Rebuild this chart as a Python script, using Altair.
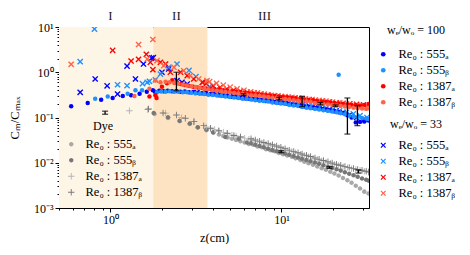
import altair as alt
import pandas as pd

# ---------------- data ----------------
SERIES = ["Re₀ : 555ₐ", "Re₀ : 555ᵦ", "Re₀ : 1387ₐ", "Re₀ : 1387ᵦ"]

# shared measurement positions of the dense camera series (cm)
ZA = [1.82, 1.93, 2.04, 2.16, 2.29, 2.43, 2.57, 2.72, 2.88, 3.05, 3.24, 3.43, 3.63, 3.85, 4.07, 4.31,
      4.57, 4.84, 5.13, 5.43, 5.75, 6.09, 6.45, 6.83, 7.24, 7.67, 8.12, 8.60, 9.11, 9.65, 10.2, 10.8,
      11.5, 12.1, 12.9, 13.6, 14.4, 15.3, 16.2, 17.2, 18.2, 19.3, 20.4, 21.6, 22.9, 24.3, 25.7, 27.2,
      28.8, 30.5, 32.3]
ZB = [1.87, 1.98, 2.10, 2.22, 2.36, 2.50, 2.65, 2.80, 2.97, 3.15, 3.33, 3.53, 3.74, 3.96, 4.19, 4.44,
      4.70, 4.98, 5.28, 5.59, 5.92, 6.27, 6.64, 7.03, 7.45, 7.89, 8.36, 8.85, 9.37, 9.92, 10.5, 11.1,
      11.8, 12.5, 13.2, 14.0, 14.8, 15.7, 16.6, 17.6, 18.7, 19.8, 21.0, 22.2, 23.5, 24.9, 26.4, 27.9,
      29.6, 31.3, 32.4]
ZC = [2.51, 2.75, 3.02, 3.31, 3.63, 3.98, 4.37, 4.79, 5.25, 5.75, 6.31, 6.92, 7.59, 8.32, 9.12, 10.0,
      11.0, 12.0, 13.2, 14.5, 15.8, 17.4, 19.1, 20.9, 22.9, 25.1, 27.5, 30.2]
ZC2 = [2.63, 2.88, 3.16, 3.47, 3.80, 4.17, 4.57, 5.01, 5.50, 6.03, 6.61, 7.24, 7.94, 8.71, 9.55, 10.5,
       11.5, 12.6, 13.8, 15.1, 16.6, 18.2, 19.9, 21.9, 24.0, 26.3, 28.8, 31.6]

# w_e/w_o = 100 (dots)
d555a_z = [0.589, 0.736, 0.882, 1.03, 1.18, 1.32, 1.48, 1.63, 1.77] + ZA
d555a_c = [0.177, 0.21, 0.247, 0.27, 0.30, 0.31, 0.336, 0.37, 0.40,
           0.37, 0.39, 0.38, 0.39, 0.38, 0.385, 0.37, 0.375, 0.36, 0.365, 0.35, 0.345, 0.34, 0.33,
           0.325, 0.31, 0.305, 0.30, 0.29, 0.285, 0.275, 0.27, 0.26, 0.255, 0.25, 0.245, 0.235, 0.23,
           0.22, 0.215, 0.21, 0.205, 0.195, 0.19, 0.18, 0.175, 0.17, 0.165, 0.16, 0.155, 0.15, 0.145,
           0.14, 0.13, 0.125, 0.112, 0.10, 0.078, 0.08, 0.082, 0.086]
d555b_z = [0.814, 0.964, 1.26, 1.40, 1.53, 21.6] + ZB
d555b_c = [0.26, 0.29, 0.336, 0.40, 0.40, 0.88,
           0.36, 0.375, 0.37, 0.38, 0.37, 0.37, 0.36, 0.36, 0.35, 0.345, 0.335, 0.33, 0.32, 0.315,
           0.305, 0.30, 0.29, 0.285, 0.275, 0.27, 0.26, 0.255, 0.25, 0.24, 0.235, 0.23, 0.225, 0.215,
           0.21, 0.205, 0.20, 0.19, 0.185, 0.18, 0.17, 0.165, 0.16, 0.155, 0.15, 0.145, 0.14, 0.135,
           0.13, 0.125, 0.118, 0.11, 0.105, 0.10, 0.097, 0.095, 0.092]
d1387a_z = [1.69, 1.83, 1.86, 2.0, 2.14, 2.30] + ZA[5:]
d1387a_c = [0.29, 0.31, 0.27, 0.48, 0.57, 0.67,
            0.60, 0.55, 0.52, 0.50, 0.48, 0.46, 0.45, 0.44, 0.43, 0.42, 0.41, 0.40, 0.39, 0.38, 0.37,
            0.36, 0.35, 0.34, 0.335, 0.325, 0.32, 0.31, 0.305, 0.30, 0.29, 0.285, 0.28, 0.27, 0.265,
            0.255, 0.25, 0.245, 0.24, 0.23, 0.225, 0.22, 0.215, 0.21, 0.205, 0.20, 0.195, 0.19, 0.19,
            0.185, 0.19, 0.20]
d1387b_z = [1.38, 1.69, 1.83, 1.96] + ZB[2:]
d1387b_c = [0.30, 0.43, 0.66, 0.60,
            0.62, 0.60, 0.58, 0.56, 0.53, 0.51, 0.49, 0.47, 0.45, 0.43, 0.42, 0.40, 0.39, 0.38, 0.37,
            0.36, 0.35, 0.34, 0.33, 0.32, 0.31, 0.305, 0.30, 0.29, 0.285, 0.275, 0.27, 0.26, 0.255,
            0.25, 0.24, 0.235, 0.23, 0.225, 0.22, 0.21, 0.205, 0.20, 0.195, 0.19, 0.185, 0.18, 0.175,
            0.17, 0.165, 0.16, 0.158, 0.155, 0.16]

# w_e/w_o = 33 (crosses)
x555a_z = [0.665, 0.814, 0.956, 1.10, 1.25, 1.40, 1.56, 1.74, 1.78, 2.0, 2.19, 2.45, 2.62, 2.81, 3.21] + ZC[4:]
x555a_c = [0.36, 0.71, 0.50, 0.33, 1.37, 0.71, 1.52, 2.06, 2.1, 1.0, 1.18, 0.65, 0.60, 0.55, 0.36,
           0.36, 0.35, 0.33, 0.315, 0.30, 0.285, 0.27, 0.26, 0.25, 0.24, 0.23, 0.22, 0.21, 0.20,
           0.19, 0.18, 0.17, 0.16, 0.15, 0.14, 0.13, 0.115, 0.10, 0.09]
x555b_z = [0.665, 0.806, 1.10, 1.25, 1.54, 1.64, 1.69, 1.83, 1.96, 2.19, 2.45] + ZC2[1:]
x555b_c = [1.71, 9.0, 0.53, 0.505, 0.56, 0.60, 0.63, 0.68, 0.91, 1.29, 1.52,
           1.1, 0.8, 0.6, 0.48, 0.42, 0.38, 0.35, 0.325, 0.30, 0.285, 0.27, 0.255, 0.245, 0.235,
           0.22, 0.21, 0.20, 0.19, 0.18, 0.17, 0.16, 0.15, 0.14, 0.13, 0.12, 0.11, 0.10]
x1387a_z = [1.03, 1.32, 1.46, 1.62, 1.71, 1.77, 1.96, 2.10, 2.24, 2.57, 2.81, 3.07, 3.44] + ZC[4:]
x1387a_c = [3.05, 1.77, 1.93, 2.49, 1.66, 1.14, 1.66, 1.52, 1.0, 1.0, 0.84, 0.71, 0.60,
            0.56, 0.50, 0.46, 0.43, 0.40, 0.38, 0.36, 0.345, 0.33, 0.315, 0.30, 0.29, 0.28, 0.27,
            0.26, 0.25, 0.24, 0.23, 0.22, 0.21, 0.205, 0.20, 0.195, 0.19]
x1387b_z = [0.589, 1.46, 1.77, 1.64, 1.87, 2.05, 2.35, 2.68, 2.93, 3.28, 3.67] + ZC2[4:]
x1387b_c = [1.5, 4.1, 5.3, 1.96, 1.80, 1.40, 1.29, 1.08, 0.84, 0.71, 0.65,
            0.62, 0.57, 0.52, 0.47, 0.43, 0.40, 0.37, 0.35, 0.33, 0.31, 0.30, 0.29, 0.28, 0.27,
            0.26, 0.25, 0.24, 0.23, 0.22, 0.21, 0.20, 0.19, 0.18, 0.175]

# Dye
y555a_z = [1.81, 2.17, 2.54, 2.91, 3.24, 3.64, 3.99] + ZA[15:]
y555a_c = [0.12, 0.098, 0.083, 0.072, 0.060, 0.052, 0.046,
           0.042, 0.039, 0.036, 0.034, 0.032, 0.030, 0.028, 0.026, 0.025, 0.023, 0.022, 0.020,
           0.019, 0.018, 0.0165, 0.0155, 0.0145, 0.0135, 0.0125, 0.0115, 0.0105, 0.0098, 0.009,
           0.0083, 0.0076, 0.007, 0.0063, 0.0058, 0.0052, 0.0046, 0.0041, 0.0036, 0.0031, 0.0027,
           0.0023, 0.0021]
y555b_z = [1.79, 2.17, 2.54, 2.91, 3.24, 3.64, 3.99, 4.70, 5.63, 6.30] + ZB[22:]
y555b_c = [0.126, 0.101, 0.085, 0.074, 0.061, 0.054, 0.047, 0.037, 0.034, 0.028,
           0.027, 0.025, 0.0235, 0.022, 0.0205, 0.019, 0.018, 0.017, 0.016, 0.015, 0.014, 0.013,
           0.0122, 0.0115, 0.0108, 0.0101, 0.0095, 0.0088, 0.0082, 0.0077, 0.0072, 0.0067, 0.0062,
           0.0057, 0.0053, 0.0049, 0.0045, 0.0042, 0.004]
y1387a_z = [1.29, 1.65, 2.1, 2.6, 3.1] + ZA[12:]
y1387a_c = [0.141, 0.15, 0.125, 0.10, 0.082,
            0.062, 0.058, 0.054, 0.050, 0.047, 0.044, 0.041, 0.039, 0.037, 0.035, 0.033, 0.031,
            0.029, 0.0275, 0.026, 0.0245, 0.023, 0.0215, 0.020, 0.019, 0.0178, 0.0166, 0.0155,
            0.0145, 0.0135, 0.0126, 0.0118, 0.011, 0.0103, 0.0097, 0.0092, 0.0087, 0.0082, 0.0078,
            0.0074, 0.0071, 0.0068, 0.0065, 0.0063]
y1387b_z = [1.67, 2.03, 2.43, 2.74, 3.07, 3.51, 3.84, 4.30, 4.81, 5.27, 5.76] + ZB[22:]
y1387b_c = [0.154, 0.126, 0.114, 0.096, 0.081, 0.066, 0.058, 0.051, 0.045, 0.040, 0.037,
            0.034, 0.032, 0.030, 0.028, 0.0265, 0.025, 0.0235, 0.022, 0.0205, 0.019, 0.0178,
            0.0167, 0.0156, 0.0146, 0.0137, 0.0128, 0.012, 0.0112, 0.0105, 0.0099, 0.0093, 0.0088,
            0.0083, 0.0079, 0.0075, 0.0071, 0.0068, 0.0065, 0.0062]

# error bars
eb_z = [0.93, 2.43, 6.0, 9.7, 13.2, 16.9, 20.7, 24.3, 27.8, 9.97, 19.1, 28.2]
eb_lo = [0.118, 0.39, 0.305, 0.245, 0.174, 0.19, 0.175, 0.043, 0.066, 0.0168, 0.0075, 0.0059]
eb_hi = [0.138, 1.0, 0.335, 0.28, 0.294, 0.215, 0.19, 0.27, 0.183, 0.0185, 0.0082, 0.0069]

# regions
REGIONS = ["I", "II"]
region_lo = [0.5, 1.78]
region_hi = [1.78, 3.69]
ROMAN = ["I", "II", "III"]
roman_z = [1.0, 2.43, 7.96]

DYE = ["Re₀ : 555ₐ ", "Re₀ : 555ᵦ ", "Re₀ : 1387ₐ ", "Re₀ : 1387ᵦ "]

# ---------------- styling ----------------
W, H = 310, 181
FONT = "Liberation Serif"
COLORS = ["#0000ff", "#1e90ff", "#ff0000", "#ff6347"]
DYE_COLORS = ["#a8a8a8", "#777777", "#b4b4b4", "#777777"]
XPATH = ("M0.693,-1.004L1.004,-0.693L0.311,0L1.004,0.693L0.693,1.004L0,0.311L-0.693,1.004"
         "L-1.004,0.693L-0.311,0L-1.004,-0.693L-0.693,-1.004L0,-0.311Z")
PLUS = ("M-0.14,-1L0.14,-1L0.14,-0.14L1,-0.14L1,0.14L0.14,0.14L0.14,1L-0.14,1L-0.14,0.14"
        "L-1,0.14L-1,-0.14L-0.14,-0.14Z")
CIRC = "M0.7,0A0.7,0.7,0,1,1,-0.7,0A0.7,0.7,0,1,1,0.7,0Z"


def frame(groups):
    out = []
    for zs, cs, name in groups:
        assert len(zs) == len(cs), name
        out += [{"z": a, "c": b, "series": name} for a, b in zip(zs, cs)]
    return pd.DataFrame(out)


dots_df = frame([(d555a_z, d555a_c, SERIES[0]), (d555b_z, d555b_c, SERIES[1]),
                 (d1387a_z, d1387a_c, SERIES[2]), (d1387b_z, d1387b_c, SERIES[3])])
cross_df = frame([(x555a_z, x555a_c, SERIES[0]), (x555b_z, x555b_c, SERIES[1]),
                  (x1387a_z, x1387a_c, SERIES[2]), (x1387b_z, x1387b_c, SERIES[3])])
dye_df = frame([(y555a_z, y555a_c, DYE[0]), (y555b_z, y555b_c, DYE[1]),
                (y1387a_z, y1387a_c, DYE[2]), (y1387b_z, y1387b_c, DYE[3])])
eb_df = pd.DataFrame({"z": eb_z, "lo": eb_lo, "hi": eb_hi})
reg_df = pd.DataFrame({"region": REGIONS, "lo": region_lo, "hi": region_hi})
rom_df = pd.DataFrame({"label": ROMAN, "z": roman_z})

X_TICKS = [0.5, 0.6, 0.7, 0.8, 0.9, 1, 2, 3, 4, 5, 6, 7, 8, 9, 10, 20, 30]
Y_TICKS = [0.001, 0.002, 0.003, 0.004, 0.005, 0.006, 0.007, 0.008, 0.009,
           0.01, 0.02, 0.03, 0.04, 0.05, 0.06, 0.07, 0.08, 0.09,
           0.1, 0.2, 0.3, 0.4, 0.5, 0.6, 0.7, 0.8, 0.9,
           1, 2, 3, 4, 5, 6, 7, 8, 9, 10]
MAJOR = "indexof([0.001, 0.01, 0.1, 1, 10], datum.value) >= 0"
TICK = {"condition": {"test": MAJOR, "value": 4}, "value": 2}

xs = alt.Scale(type="log", domain=[0.5, 32.5], nice=False)
ys = alt.Scale(type="log", domain=[0.001, 10], nice=False)
x_axis = alt.Axis(title="z(cm)", values=X_TICKS,
                  labelExpr="datum.value == 1 ? '10⁰' : datum.value == 10 ? '10¹' : ''",
                  tickSize=TICK, labelOverlap=False, labelFlush=False, grid=False,
                  labelPadding=2, titlePadding=6)
y_axis = alt.Axis(title="Cₘ/Cₘₐₓ", values=Y_TICKS,
                  labelExpr=("datum.value == 0.001 ? '10⁻³' : datum.value == 0.01 ? '10⁻²' : "
                             "datum.value == 0.1 ? '10⁻¹' : datum.value == 1 ? '10⁰' : "
                             "datum.value == 10 ? '10¹' : ''"),
                  tickSize=TICK, labelOverlap=False, labelFlush=False, grid=False,
                  labelPadding=2, titlePadding=12)


def X(field):
    return alt.X(field, type="quantitative", scale=xs, axis=x_axis)


def Y(field):
    return alt.Y(field, type="quantitative", scale=ys, axis=y_axis)


regions = alt.Chart(reg_df).mark_rect().encode(
    x=X("lo"), x2="hi", y=alt.value(0), y2=alt.value(H),
    color=alt.Color("region:N", scale=alt.Scale(domain=REGIONS, range=["#fdf5e6", "#fde3c2"]),
                    legend=None))

dots = alt.Chart(dots_df).mark_point(shape="circle", filled=True, size=20, opacity=1,
                                     strokeWidth=0, clip=True).encode(
    x=X("z"), y=Y("c"),
    color=alt.Color("series:N", scale=alt.Scale(domain=SERIES, range=COLORS),
                    legend=alt.Legend(title="wₑ/wₒ = 100", orient="none", legendX=318,
                                      legendY=-2, titleAnchor="middle", symbolType="circle",
                                      symbolSize=22, rowPadding=3, labelOffset=9, padding=0,
                                      titlePadding=11, symbolStrokeWidth=0)))

crosses = alt.Chart(cross_df).mark_point(shape=XPATH, filled=True, size=38, opacity=1,
                                         strokeWidth=0, clip=True).encode(
    x=X("z"), y=Y("c"),
    color=alt.Color("series:N", scale=alt.Scale(domain=SERIES, range=COLORS),
                    legend=alt.Legend(title="wₑ/wₒ = 33", orient="none", legendX=318,
                                      legendY=92, titleAnchor="middle", symbolType=XPATH,
                                      symbolSize=30, rowPadding=3, labelOffset=9, padding=0,
                                      titlePadding=8, symbolStrokeWidth=0)))

dye_legend = alt.Legend(title="Dye", orient="none", legendX=6, legendY=94, titleAnchor="middle",
                        symbolSize=40, rowPadding=3, labelOffset=8, padding=0, titlePadding=5,
                        symbolStrokeWidth=0)
dye = alt.Chart(dye_df).mark_point(filled=True, size=42, opacity=1, strokeWidth=0,
                                   clip=True).encode(
    x=X("z"), y=Y("c"),
    color=alt.Color("series:N", scale=alt.Scale(domain=DYE, range=DYE_COLORS), legend=dye_legend),
    shape=alt.Shape("series:N", scale=alt.Scale(domain=DYE, range=[CIRC, CIRC, PLUS, PLUS]),
                    legend=dye_legend))

err = alt.Chart(eb_df).mark_rule(color="black", strokeWidth=1.3).encode(
    x=X("z"), y=Y("lo"), y2="hi")
cap_lo = alt.Chart(eb_df).mark_tick(color="black", orient="horizontal", size=6,
                                    thickness=1.3).encode(x=X("z"), y=Y("lo"))
cap_hi = alt.Chart(eb_df).mark_tick(color="black", orient="horizontal", size=6,
                                    thickness=1.3).encode(x=X("z"), y=Y("hi"))

roman = alt.Chart(rom_df).mark_text(font=FONT, fontSize=13, baseline="middle",
                                    color="#222222").encode(
    x=X("z"), y=alt.value(-11), text="label:N")

chart = alt.layer(regions, crosses, dots, dye, err, cap_lo, cap_hi, roman).resolve_scale(
    color="independent", shape="independent"
).properties(
    width=W, height=H, padding={"left": 0, "top": 2, "right": 0, "bottom": 0}
).configure_view(
    stroke="black", strokeWidth=1
).configure_axis(
    labelFont=FONT, titleFont=FONT, labelFontSize=12, titleFontSize=12.5, labelColor="black",
    titleColor="black", domainColor="black", tickColor="black", titleFontWeight="normal",
    domainWidth=1, tickWidth=1
).configure_legend(
    labelFont=FONT, titleFont=FONT, labelFontSize=12.5, titleFontSize=12, labelColor="black",
    titleColor="black", titleFontWeight="normal"
)

chart.save("out.html", embed_options={"renderer": "svg", "actions": False})
